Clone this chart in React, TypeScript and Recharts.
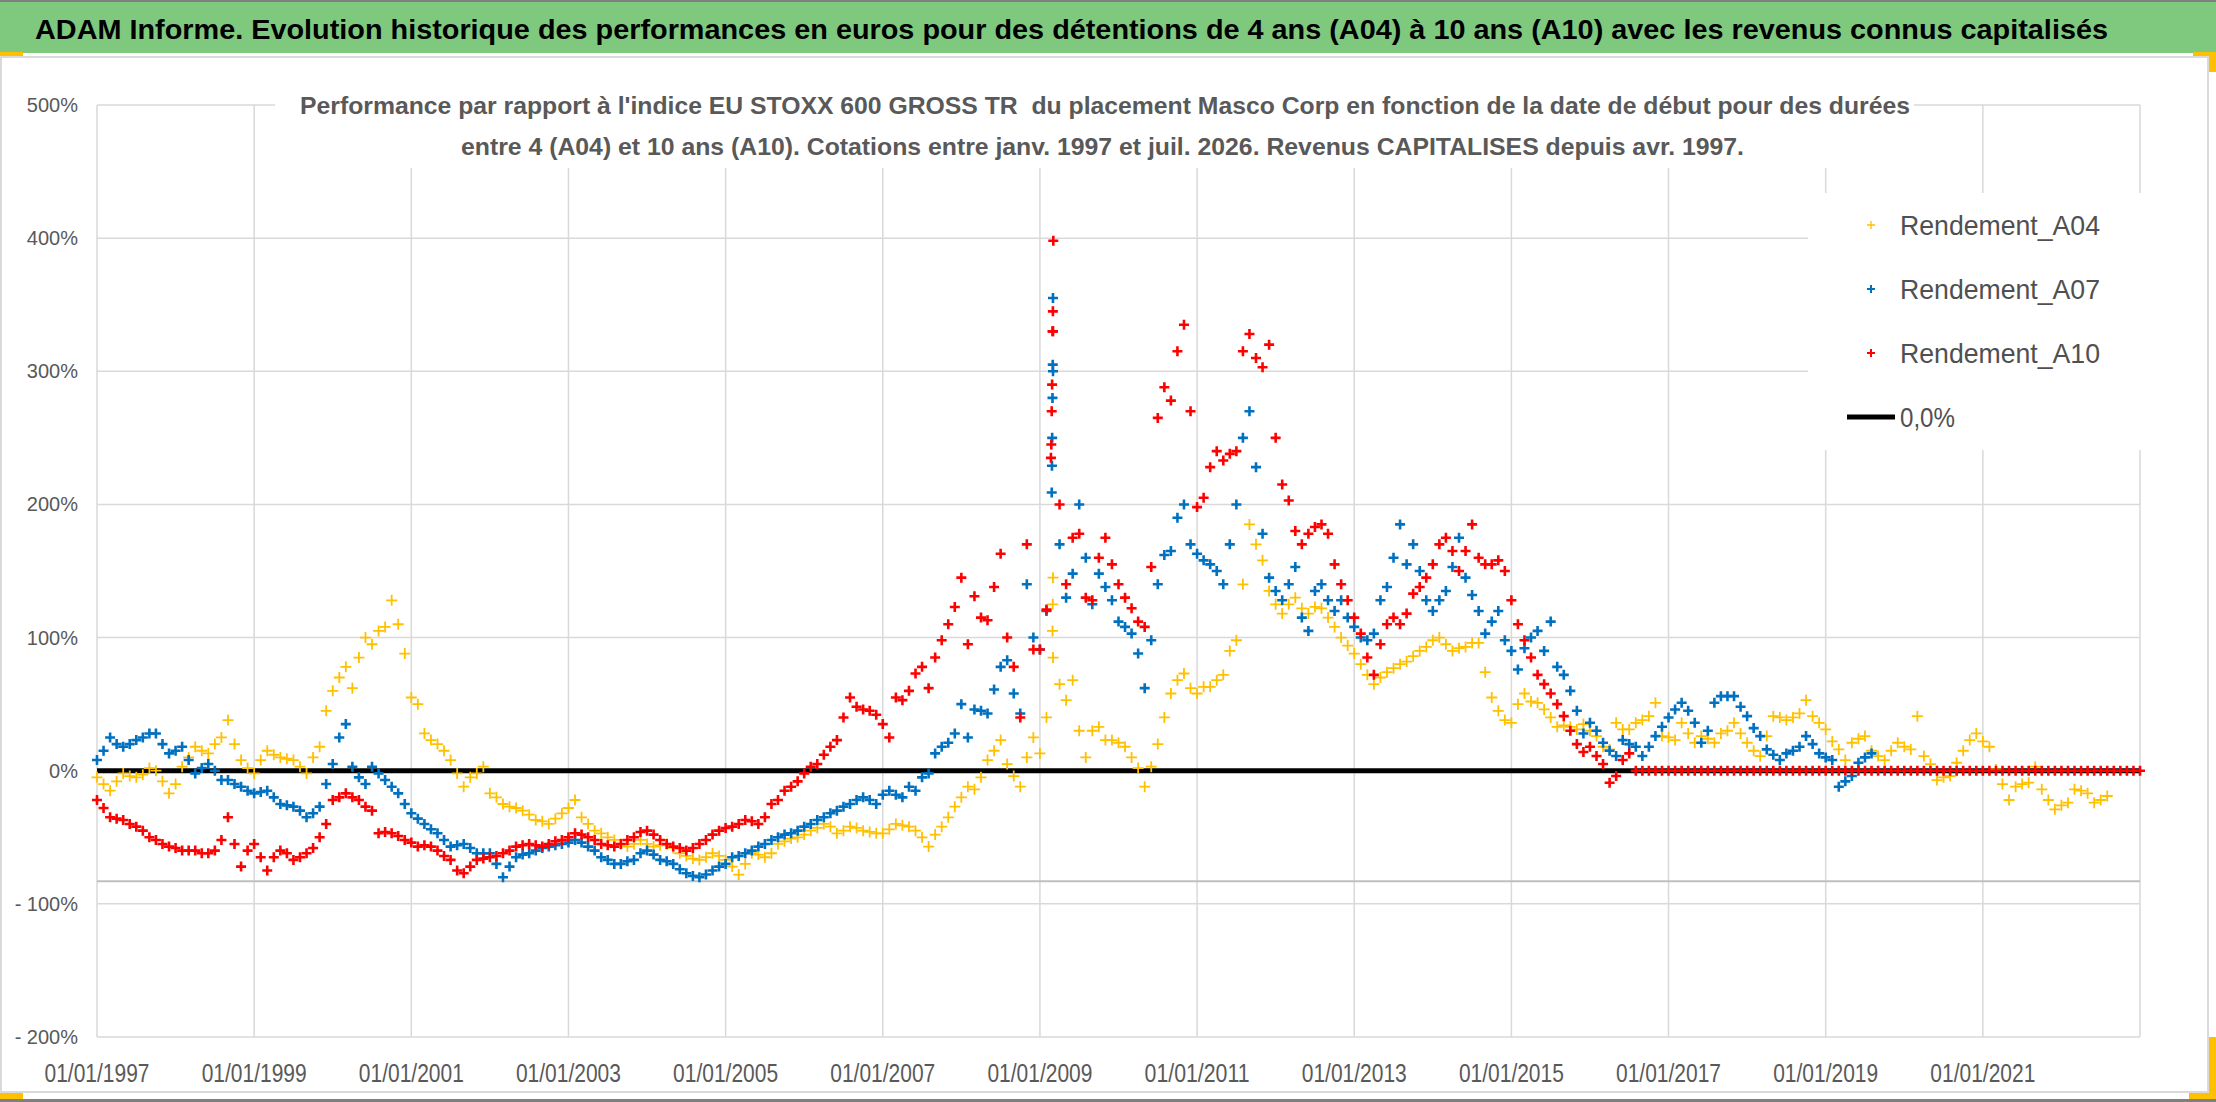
import React from "react";
import {
  CartesianGrid,
  Legend,
  ReferenceLine,
  Scatter,
  ScatterChart,
  XAxis,
  YAxis,
} from "recharts";

const FONT = "'Liberation Sans', Arial, sans-serif";
const START_YEAR = 1997;

const xTicks = [1997, 1999, 2001, 2003, 2005, 2007, 2009, 2011, 2013, 2015, 2017, 2019, 2021];
const yTicks = [-200, -100, 0, 100, 200, 300, 400, 500];

// performance vs index in %, one value per month, one row per year from Jan 1997
const rendementA04 = [
  -5, -10, -15, -8, -2, -4, -5, -3, 2, 0, -8, -17,
  -10, 3, 10, 18, 15, 13, 20, 25, 38, 20, 8, 2,
  -2, 8, 15, 12, 10, 9, 8, 3, -2, 10, 18, 45,
  60, 70, 78, 62, 85, 100, 95, 105, 108, 128, 110, 88,
  55, 50, 28, 23, 20, 15, 8, -2, -12, -5, -2, 3,
  -17, -20, -25, -27, -28, -30, -33, -37, -38, -40, -36, -32,
  -28, -22, -35, -40, -45, -47, -50, -52, -55, -57, -55, -52,
  -55, -57, -56, -55, -58, -62, -64, -66, -67, -65, -62, -64,
  -67, -72, -78, -70, -62, -63, -65, -62, -55, -53, -51, -50,
  -48, -45, -43, -40, -42, -47, -45, -42, -43, -45, -46, -47,
  -47, -44, -40, -41, -42, -45, -50, -57, -48, -42, -35, -27,
  -20, -12, -14, -5, 8, 15, 23, 5, -4, -12, 10, 25,
  13, 40, 85, 65, 53, 68, 30, 10, 30, 33, 23, 23,
  21, 18, 10, 2, -12, 3, 20, 40, 58, 68, 73, 62,
  58, 63, 63, 68, 72, 90, 98, 140, 185, 170, 158, 135,
  125, 118, 125, 130, 122, 118, 123, 122, 115, 108, 100, 94,
  88, 80, 72, 65, 70, 74, 77, 80, 82, 86, 90, 93,
  98, 100, 95, 90, 92, 93, 96, 96, 74, 55, 45, 38,
  36, 50, 58, 52, 51, 46, 40, 33, 34, 33, 31, 35,
  30, 26, 18, 16, 36, 31, 31, 36, 38, 41, 51, 26,
  25, 23, 36, 28, 21, 26, 24, 21, 28, 30, 36, 28,
  21, 15, 11, 26, 41, 40, 38, 40, 43, 53, 41, 36,
  31, 22, 16, 8, 21, 24, 26, 15, 11, 8, 15, 21,
  18, 16, 41, 11, 5, -7, -5, -4, 6, 15, 23, 28,
  22, 18, 1, -10, -22, -12, -10, -9, 3, -14, -22, -29,
  -26, -24, -14, -15, -17, -24, -22, -19,
];

const rendementA07 = [
  8, 15, 25, 20, 18, 20, 23, 25, 28, 28, 20, 13,
  15, 18, 8, -2, 2, 5, 0, -7, -7, -10, -12, -15,
  -17, -16, -15, -20, -25, -26, -27, -30, -35, -32, -27, -10,
  5, 25, 35, 3, -5, -10, 3, -2, -7, -12, -17, -25,
  -32, -36, -40, -44, -47, -52, -57, -56, -55, -58, -62, -62,
  -62, -70, -80, -72, -65, -63, -62, -60, -58, -57, -56, -55,
  -54, -52, -54, -57, -60, -65, -67, -70, -70, -68, -67, -62,
  -60, -63, -67, -68, -70, -74, -77, -79, -80, -78, -75, -72,
  -70, -65, -64, -62, -60, -57, -55, -52, -50, -48, -47, -45,
  -42, -40, -37, -35, -32, -30, -27, -25, -22, -20, -22, -25,
  -18, -15, -18, -20, -12, -15, -5, -2, 13, 18, 21, 28,
  50, 25, 46, 45, 43, 61, 78, 83, 58, 43, 140, 100,
  91, 120, 300, 170, 130, 148, 200, 160, 125, 148, 138, 128,
  112, 108, 103, 88, 62, 98, 140, 162, 165, 190, 200, 170,
  163, 158, 155, 150, 140, 170, 200, 250, 270, 228, 178, 145,
  135, 128, 140, 153, 115, 105, 135, 140, 128, 120, 128, 115,
  108, 100, 98, 103, 128, 138, 160, 185, 155, 170, 150, 128,
  120, 128, 135, 153, 175, 145, 132, 120, 103, 112, 120, 98,
  90, 76, 92, 100, 105, 90, 112, 78, 72, 60, 45, 28,
  36, 30, 21, 15, 11, 23, 20, 18, 11, 18, 26, 33,
  40, 46, 51, 45, 36, 21, 30, 51, 56, 56, 56, 48,
  41, 32, 26, 16, 12, 8, 13, 15, 18, 26, 20, 13,
  10, 8, -12, -8, -4, 6, 10, 13,
];

const rendementA10 = [
  -22, -28, -35, -36, -37, -40, -42, -45, -50, -52, -55, -57,
  -58, -60, -60, -60, -62, -62, -60, -52, -35, -55, -72, -60,
  -55, -65, -75, -65, -60, -62, -67, -65, -62, -58, -50, -40,
  -22, -20, -17, -20, -22, -27, -30, -47, -46, -47, -49, -52,
  -54, -57, -56, -57, -60, -64, -67, -75, -77, -72, -67, -66,
  -65, -64, -62, -60, -57, -56, -55, -56, -57, -55, -53, -52,
  -50, -47, -48, -50, -52, -55, -56, -57, -55, -52, -50, -46,
  -45, -48, -52, -55, -57, -58, -60, -58, -55, -52, -48, -45,
  -43, -42, -40, -37, -38, -40, -35, -25, -22, -15, -12, -8,
  -2, 3, 5, 12, 18, 23, 40, 55, 48, 46, 45, 42,
  35, 25, 55, 53, 60, 73, 78, 62, 85, 98, 110, 123,
  145, 95, 131, 115, 113, 138, 163, 100, 78, 40, 170, 91,
  91, 121, 330, 200, 140, 175, 178, 130, 128, 160, 175, 155,
  140, 130, 122, 112, 108, 153, 265, 288, 278, 315, 335, 270,
  198, 205, 228, 240, 233, 238, 240, 315, 328, 310, 303, 320,
  250, 215, 203, 180, 170, 178, 183, 185, 178, 155, 140, 128,
  115, 103, 85, 72, 95, 110, 115, 110, 118, 133, 138, 145,
  155, 170, 175, 165, 150, 165, 185, 160, 155, 155, 158, 150,
  128, 110, 98, 85, 72, 65, 58, 50, 41, 30, 20, 14,
  18, 11, 5, -9, -4, 8, 13, 0, 0, 0, 0, 0,
  0, 0, 0, 0, 0, 0, 0, 0, 0, 0, 0, 0,
  0, 0, 0, 0, 0, 0, 0, 0, 0, 0, 0, 0,
  0, 0, 0, 0, 0, 0, 0, 0, 0, 0, 0, 0,
  0, 0, 0, 0, 0, 0, 0, 0, 0, 0, 0, 0,
  0, 0, 0, 0, 0, 0, 0, 0, 0, 0, 0, 0,
  0, 0, 0, 0, 0, 0, 0, 0, 0, 0, 0, 0,
  0,
];

// the vertical streak of daily points in March 2009
const spikeA04 = [
  [2009.16, 105], [2009.163, 125], [2009.166, 145],
];
const spikeA07 = [
  [2009.15, 209], [2009.153, 229], [2009.156, 250], [2009.16, 280], [2009.163, 305], [2009.166, 355],
];
const spikeA10 = [
  [2009.14, 235], [2009.145, 245], [2009.15, 270], [2009.155, 290], [2009.16, 330], [2009.165, 345], [2009.17, 398],
];

const zeroLine = [
  [1997, 0],
  [2023, 0],
];
const axisCrossLevel = -83;

const legendItems = [
  { name: "Rendement_A04", color: "#FFC000", kind: "cross" },
  { name: "Rendement_A07", color: "#0070C0", kind: "cross" },
  { name: "Rendement_A10", color: "#FF0000", kind: "cross" },
  { name: "0,0%", color: "#000000", kind: "line" },
];

function monthly(values: number[], extra: number[][] = []) {
  const pts = values.map((v, i) => ({ t: START_YEAR + i / 12, v }));
  return pts.concat(extra.map(([t, v]) => ({ t, v })));
}

const dataA04 = monthly(rendementA04, spikeA04);
const dataA07 = monthly(rendementA07, spikeA07);
const dataA10 = monthly(rendementA10, spikeA10);
const dataZero = zeroLine.map(([t, v]) => ({ t, v }));

function cross(color: string, half: number, width: number) {
  return (props: any) => {
    const { cx, cy } = props;
    if (cx == null || cy == null) return <g />;
    return (
      <path
        d={`M${cx - half},${cy}H${cx + half}M${cx},${cy - half}V${cy + half}`}
        stroke={color}
        strokeWidth={width}
        fill="none"
      />
    );
  };
}

const noMark = () => <g />;

function XTick(props: any) {
  const { x, payload } = props;
  return (
    <text
      x={x}
      y={1082}
      textAnchor="middle"
      fontFamily={FONT}
      fontSize={25}
      fill="#595959"
      textLength={105}
      lengthAdjust="spacingAndGlyphs"
    >
      {`01/01/${payload.value}`}
    </text>
  );
}

function YTick(props: any) {
  const { y, payload } = props;
  const v = payload.value;
  const label = v < 0 ? `- ${Math.abs(v)}%` : `${v}%`;
  return (
    <text x={78} y={y + 7} textAnchor="end" fontFamily={FONT} fontSize={20} fill="#595959">
      {label}
    </text>
  );
}

function LegendBox() {
  return (
    <div style={{ background: "#fff", width: 345, height: 257 }}>
      <svg width={345} height={257}>
        {legendItems.map((item, i) => {
          const cy = 32 + i * 64;
          return (
            <g key={item.name}>
              {item.kind === "cross" ? (
                <path
                  d={`M59,${cy}H67M63,${cy - 4}V${cy + 4}`}
                  stroke={item.color}
                  strokeWidth={item.color === "#FFC000" ? 1.3 : 2}
                />
              ) : (
                <line x1={39} x2={87} y1={cy} y2={cy} stroke={item.color} strokeWidth={5} />
              )}
              <text
                x={92}
                y={cy + 10}
                fontFamily={FONT}
                fontSize={28}
                fill="#505050"
                textLength={item.kind === "cross" ? 200 : 55}
                lengthAdjust="spacingAndGlyphs"
              >
                {item.name}
              </text>
            </g>
          );
        })}
      </svg>
    </div>
  );
}

export default function App() {
  return (
    <div style={{ position: "relative", width: 2216, height: 1102, background: "#fff", overflow: "hidden" }}>
      <style>{"body{margin:0}"}</style>
      <ScatterChart width={2216} height={1102} margin={{ top: 105, right: 76, bottom: 0, left: 0 }}>
        <CartesianGrid stroke="#D9D9D9" strokeWidth={1.5} />
        <XAxis
          dataKey="t"
          type="number"
          domain={[1997, 2023]}
          ticks={xTicks}
          height={65}
          axisLine={false}
          tickLine={false}
          tick={<XTick />}
          interval={0}
        />
        <YAxis
          dataKey="v"
          type="number"
          domain={[-200, 500]}
          ticks={yTicks}
          width={97}
          axisLine={false}
          tickLine={false}
          tick={<YTick />}
          interval={0}
        />
        <ReferenceLine y={axisCrossLevel} stroke="#BFBFBF" strokeWidth={2} />
        <Scatter
          name="0,0%"
          data={dataZero}
          fill="#000"
          line={{ stroke: "#000", strokeWidth: 5 }}
          lineType="joint"
          shape={noMark}
          isAnimationActive={false}
        />
        <Scatter name="Rendement_A04" data={dataA04} fill="#FFC000" shape={cross("#FFC000", 5.5, 1.8)} isAnimationActive={false} />
        <Scatter name="Rendement_A07" data={dataA07} fill="#0070C0" shape={cross("#0070C0", 5, 2.6)} isAnimationActive={false} />
        <Scatter name="Rendement_A10" data={dataA10} fill="#FF0000" shape={cross("#FF0000", 5, 2.6)} isAnimationActive={false} />
        <Legend
          content={<LegendBox />}
          layout="horizontal"
          verticalAlign="middle"
          align="center"
          wrapperStyle={{ left: 1808, top: 193, width: 345, height: 257 }}
        />
      </ScatterChart>
      <svg
        width={2216}
        height={1102}
        style={{ position: "absolute", left: 0, top: 0, pointerEvents: "none" }}
      >
        <rect x={0} y={0} width={2216} height={2} fill="#7F7F7F" />
        <rect x={0} y={2} width={2216} height={51} fill="#7FC97F" />
        <rect x={1} y={57} width={2207} height={1035} fill="none" stroke="#D9D9D9" strokeWidth={2} />
        <rect x={0} y={1099} width={2216} height={3} fill="#7F7F7F" />
        <rect x={0} y={52} width={23} height={4} fill="#FFC000" />
        <rect x={2193} y={52} width={23} height={4} fill="#FFC000" />
        <rect x={2209} y={52} width={7} height={20} fill="#FFC000" />
        <rect x={0} y={1093} width={23} height={6} fill="#FFC000" />
        <rect x={2209} y={1037} width={7} height={62} fill="#FFC000" />
        <rect x={2189} y={1093} width={27} height={6} fill="#FFC000" />
        <text
          x={35}
          y={39}
          fontFamily={FONT}
          fontWeight="bold"
          fontSize={28}
          fill="#000"
          textLength={2073}
          lengthAdjust="spacingAndGlyphs"
        >
          ADAM Informe. Evolution historique des performances en euros pour des détentions de 4 ans (A04) à 10 ans (A10) avec les revenus connus capitalisés
        </text>
        <rect x={275} y={88} width={1639} height={80} fill="#fff" />
        <text
          x={300}
          y={114}
          fontFamily={FONT}
          fontWeight="bold"
          fontSize={24}
          fill="#595959"
          textLength={1610}
          lengthAdjust="spacingAndGlyphs"
          style={{ whiteSpace: "pre" }}
        >
          {"Performance par rapport à l'indice EU STOXX 600 GROSS TR  du placement Masco Corp en fonction de la date de début pour des durées"}
        </text>
        <text
          x={461}
          y={155}
          fontFamily={FONT}
          fontWeight="bold"
          fontSize={24}
          fill="#595959"
          textLength={1283}
          lengthAdjust="spacingAndGlyphs"
        >
          entre 4 (A04) et 10 ans (A10). Cotations entre janv. 1997 et juil. 2026. Revenus CAPITALISES depuis avr. 1997.
        </text>
      </svg>
    </div>
  );
}
